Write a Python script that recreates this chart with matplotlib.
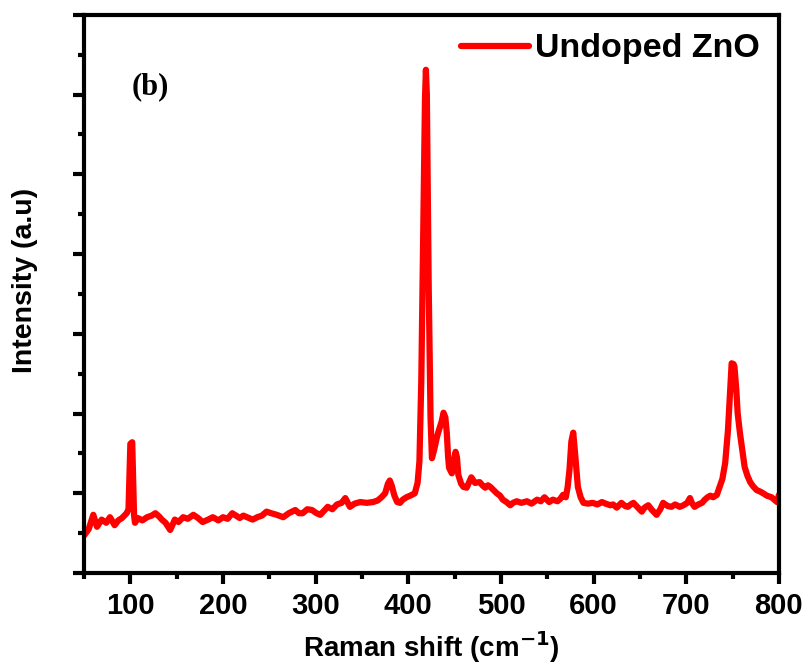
import matplotlib.pyplot as plt

# Raman spectrum (x in cm-1, intensity in arbitrary units)
shift = [50, 55, 60, 64, 69, 74, 78, 83, 87, 91,
         96, 98, 100, 102, 104, 105, 108, 113, 118, 123,
         127, 131, 134, 138, 143, 148, 152, 157, 162, 168,
         173, 178, 184, 189, 195, 200, 205, 210, 214, 218,
         222, 226, 232, 237, 242, 247, 252, 258, 265, 271,
         278, 282, 286, 291, 296, 301, 305, 309, 313, 318,
         323, 328, 332, 337, 342, 348, 355, 362, 367, 371,
         375, 378, 380, 382, 385, 388, 391, 394, 398, 402,
         407, 410, 412, 414, 416, 418, 419, 420, 422, 424,
         425.5, 428, 431, 433, 436, 438, 440, 441.5, 443, 444,
         447, 449, 451, 452.5, 454, 457, 459.5, 463, 468, 472,
         477, 480, 483, 486, 488.5, 492, 495.5, 499, 502, 506,
         510, 513, 517, 522, 528, 533, 539, 543, 547, 552,
         556, 561, 564, 567, 570, 572, 574, 576, 578, 580,
         583, 586, 589, 594, 599, 604, 609, 613, 618, 621,
         625, 630, 634, 637, 640, 643, 648, 652, 655, 659,
         663, 668, 672, 675, 680, 684, 688, 693, 697, 701,
         704, 706, 709, 713, 717, 720, 723, 726, 729, 733,
         736, 739, 742, 745, 747, 749, 751, 752, 754, 755.5,
         758, 760, 763, 766, 769, 772, 776, 780, 783, 787,
         792, 795, 798, 800]
intensity = [0.47, 0.55, 0.73, 0.58, 0.67, 0.63, 0.70, 0.60, 0.66, 0.69,
             0.75, 0.80, 1.62, 1.64, 0.72, 0.63, 0.69, 0.66, 0.70, 0.72,
             0.75, 0.71, 0.67, 0.63, 0.54, 0.67, 0.64, 0.70, 0.68, 0.73,
             0.69, 0.64, 0.67, 0.70, 0.66, 0.70, 0.68, 0.75, 0.72, 0.69,
             0.72, 0.70, 0.67, 0.70, 0.72, 0.77, 0.75, 0.73, 0.70, 0.75,
             0.79, 0.75, 0.75, 0.80, 0.79, 0.75, 0.73, 0.78, 0.83, 0.80,
             0.86, 0.88, 0.94, 0.83, 0.87, 0.89, 0.88, 0.89, 0.91, 0.95,
             1.00, 1.12, 1.16, 1.10, 0.97, 0.89, 0.88, 0.92, 0.95, 0.97,
             1.00, 1.13, 1.40, 2.40, 4.20, 5.95, 6.31, 6.00, 3.60, 1.95,
             1.44, 1.55, 1.71, 1.79, 1.90, 2.01, 1.95, 1.76, 1.45, 1.32,
             1.25, 1.40, 1.52, 1.45, 1.23, 1.12, 1.08, 1.07, 1.20, 1.13,
             1.14, 1.10, 1.07, 1.10, 1.08, 1.04, 1.00, 0.97, 0.92, 0.89,
             0.85, 0.88, 0.90, 0.88, 0.90, 0.87, 0.92, 0.90, 0.95, 0.89,
             0.92, 0.90, 0.93, 0.98, 0.95, 1.08, 1.30, 1.65, 1.76, 1.50,
             1.08, 0.95, 0.88, 0.87, 0.88, 0.86, 0.89, 0.87, 0.85, 0.86,
             0.82, 0.88, 0.84, 0.83, 0.86, 0.88, 0.82, 0.77, 0.82, 0.85,
             0.79, 0.73, 0.80, 0.88, 0.84, 0.83, 0.86, 0.83, 0.85, 0.88,
             0.94, 0.88, 0.83, 0.86, 0.88, 0.92, 0.95, 0.97, 0.95, 0.98,
             1.08, 1.18, 1.38, 1.79, 2.20, 2.63, 2.62, 2.59, 2.30, 2.00,
             1.75, 1.58, 1.33, 1.22, 1.14, 1.09, 1.04, 1.02, 1.00, 0.97,
             0.95, 0.92, 0.89, 0.98]

label = 'Undoped ZnO'

fig, ax = plt.subplots(figsize=(8.08, 6.71), dpi=100)
fig.subplots_adjust(left=0.104, right=0.964, bottom=0.146, top=0.978)

ax.plot(shift, intensity, color='#ff0000', lw=4.5, label=label,
        solid_joinstyle='round', solid_capstyle='round')

ax.set_xlim(50, 800)
ax.set_ylim(0, 7)
ax.set_xticks(range(100, 801, 100))
ax.set_xticks(range(50, 801, 50), minor=True)
ax.set_yticks(range(0, 8))
ax.set_yticks([i + 0.5 for i in range(7)], minor=True)
ax.set_yticklabels([])

for s in ax.spines.values():
    s.set_linewidth(3)
ax.tick_params(which='major', direction='out', length=8, width=3, labelsize=21, pad=6)
ax.tick_params(which='minor', direction='out', length=4, width=3)
for t in ax.get_xticklabels():
    t.set_fontweight('bold')
    t.set_fontfamily('Liberation Sans')

ax.set_xlabel('Raman shift (cm$^{\\mathbf{-1}}$)', fontsize=20, fontweight='bold',
              fontfamily='Liberation Sans', labelpad=6)
ax.set_ylabel('Intensity (a.u)', fontsize=20.5, fontweight='bold',
              fontfamily='Liberation Sans', va='center')
ax.yaxis.set_label_coords(-0.085, 0.525)

ax.text(0.095, 0.871, '(b)', transform=ax.transAxes, fontsize=22, fontweight='bold',
        fontfamily='Liberation Serif', ha='center', va='center')

ax.legend(loc='upper right', frameon=False, handlelength=2.0, handletextpad=0.2,
          borderaxespad=0.15, prop={'family': 'Liberation Sans', 'weight': 'bold', 'size': 24.5})

fig.savefig('out.png', dpi=100)
